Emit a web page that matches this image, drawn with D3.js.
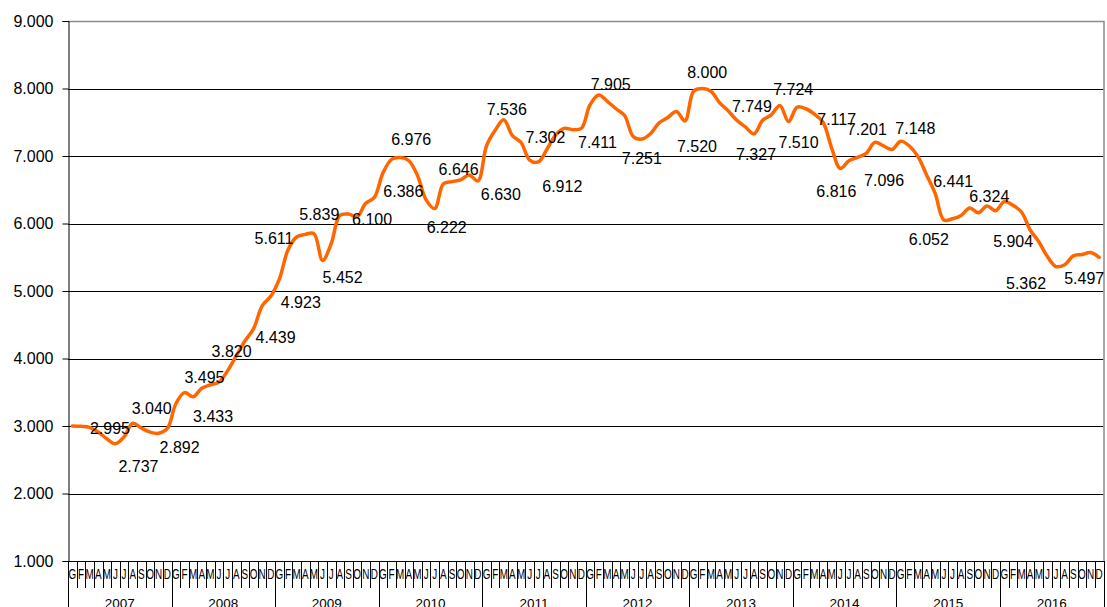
<!DOCTYPE html>
<html>
<head>
<meta charset="utf-8">
<script src="https://cdn.jsdelivr.net/npm/d3@7"></script>
<style>
  body { margin: 0; background: #fff; }
  svg { display: block; font-family: "Liberation Sans", Arial, sans-serif; }
</style>
</head>
<body>
<div id="chart"></div>
<script>
// month initials and years on the category axis
var months = ["G","F","M","A","M","J","J","A","S","O","N","D"];
var years = ["2007","2008","2009","2010","2011","2012","2013","2014","2015","2016"];

// monthly values, Jan 2007 .. Dec 2016
var values = [
  3000, 2995, 2980, 2910, 2810, 2737, 2840, 3040, 2970, 2910, 2892, 2960,
  3330, 3495, 3433, 3560, 3610, 3650, 3820, 4040, 4260, 4439, 4780, 4923,
  5180, 5611, 5800, 5839, 5850, 5452, 5700, 6120, 6140, 6100, 6300, 6386,
  6750, 6950, 6976, 6930, 6710, 6350, 6222, 6590, 6620, 6646, 6720, 6630,
  7150, 7380, 7536, 7302, 7200, 6940, 6912, 7100, 7310, 7410, 7390, 7411,
  7760, 7905, 7810, 7700, 7600, 7290, 7251, 7330, 7490, 7570, 7660, 7520,
  7960, 8000, 7960, 7790, 7670, 7530, 7430, 7327, 7530, 7610, 7749, 7510,
  7724, 7700, 7620, 7500, 7117, 6816, 6930, 6980, 7040, 7201, 7150, 7096,
  7220, 7148, 6990, 6720, 6441, 6052, 6070, 6120, 6230, 6160, 6260, 6190,
  6324, 6270, 6170, 5904, 5730, 5510, 5362, 5390, 5520, 5540, 5570, 5497
];

// which months carry a data label
var labelIdx = [1,5,7,10,13,14,18,21,23,25,27,29,33,35,38,42,45,47,50,51,54,
                59,61,66,71,73,79,82,83,84,88,89,93,95,97,100,101,108,111,114,119];

var yTicks = [1000,2000,3000,4000,5000,6000,7000,8000,9000];

// label placement relative to its point (layout only)
var labelOff = [[29,2],[23,22],[19,-15],[21,14],[20,-16],[20,19],[4,-20],[22,8],[30,6],
  [-14,-12],[14,-20],[20,17],[15,2],[29,-6],[11,-19],[12,18],[-2,-11],[23,13],[3,-11],
  [33,1],[24,24],[16,14],[12,-11],[0,19],[12,25],[5,-17],[2,20],[-28,1],[10,20],[-4,-18],
  [5,-29],[-4,23],[-8,-13],[-8,30],[6,-18],[18,-13],[-15,19],[-15,-6],[-17,11],[-30,16],[-15,21]];

var W = 1107, H = 607;
var margin = {left: 68, right: 1103.5, top: 21, bottom: 561};

var itFmt = d3.formatLocale({decimal: ",", thousands: ".", grouping: [3], currency: ["€", ""]}).format(",d");

var svg = d3.select("#chart").append("svg")
  .attr("width", W).attr("height", H);

var x = d3.scaleBand().domain(d3.range(values.length)).range([margin.left, margin.right]).padding(0);
var bw = x.bandwidth();
var y = d3.scaleLinear().domain([1000, 9000]).range([margin.bottom, margin.top]);

// gridlines
svg.append("g").selectAll("line")
  .data(yTicks.slice(1, -1))
  .enter().append("line")
  .attr("x1", margin.left).attr("x2", margin.right)
  .attr("y1", d => Math.round(y(d)) + 0.5).attr("y2", d => Math.round(y(d)) + 0.5)
  .attr("stroke", "#000").attr("stroke-width", 1);

// plot border (top + right)
svg.append("path")
  .attr("d", "M" + margin.left + "," + (margin.top + 0.5) + "H" + (margin.right + 0.5) + "V" + margin.bottom)
  .attr("fill", "none").attr("stroke", "#8c8c8c").attr("stroke-width", 1.5);

// y axis
var yAxis = svg.append("g")
  .attr("transform", "translate(" + (margin.left + 0.5) + ",0)")
  .call(d3.axisLeft(y).tickValues(yTicks).tickSize(6).tickPadding(9).tickFormat(itFmt));
yAxis.select(".domain").attr("stroke", "#000");
yAxis.selectAll(".tick line").attr("stroke", "#000");
yAxis.selectAll("text").attr("font-size", 16).attr("fill", "#000")
  .attr("font-family", "Liberation Sans, Arial, sans-serif");

// category axis: month ticks, letters, year separators
var xAxisG = svg.append("g");
xAxisG.append("line")
  .attr("x1", margin.left).attr("x2", margin.right + 0.5)
  .attr("y1", margin.bottom + 0.5).attr("y2", margin.bottom + 0.5)
  .attr("stroke", "#000");

xAxisG.selectAll(".mtick")
  .data(d3.range(values.length + 1))
  .enter().append("line")
  .attr("class", "mtick")
  .attr("x1", d => Math.round(margin.left + d * bw) + 0.5)
  .attr("x2", d => Math.round(margin.left + d * bw) + 0.5)
  .attr("y1", margin.bottom)
  .attr("y2", d => d % 12 === 0 ? H : 588)
  .attr("stroke", "#000");

xAxisG.selectAll(".mlab")
  .data(d3.range(values.length))
  .enter().append("text")
  .attr("class", "mlab")
  .attr("transform", d => "translate(" + (x(d) + bw / 2) + ",579) scale(0.66,1)")
  .attr("text-anchor", "middle")
  .attr("font-size", 15)
  .attr("fill", "#000")
  .text(d => months[d % 12]);

xAxisG.selectAll(".ylab")
  .data(years)
  .enter().append("text")
  .attr("class", "ylab")
  .attr("x", (d, i) => margin.left + (i * 12 + 6) * bw)
  .attr("y", 608)
  .attr("text-anchor", "middle")
  .attr("font-size", 13.5)
  .attr("fill", "#000")
  .text(d => d);

// the series
var line = d3.line()
  .x((d, i) => x(i) + bw / 2)
  .y(d => y(d))
  .curve(d3.curveCatmullRom.alpha(0.5));

svg.append("path")
  .datum(values)
  .attr("d", line)
  .attr("fill", "none")
  .attr("stroke", "#ff6600")
  .attr("stroke-width", 3.5)
  .attr("stroke-linejoin", "round")
  .attr("stroke-linecap", "round");

// data labels
svg.append("g").selectAll("text")
  .data(labelIdx)
  .enter().append("text")
  .attr("x", (d, k) => x(d) + bw / 2 + labelOff[k][0])
  .attr("y", (d, k) => y(values[d]) + labelOff[k][1] + 6)
  .attr("text-anchor", "middle")
  .attr("font-size", 16)
  .attr("fill", "#000")
  .text(d => itFmt(values[d]));
</script>
</body>
</html>
